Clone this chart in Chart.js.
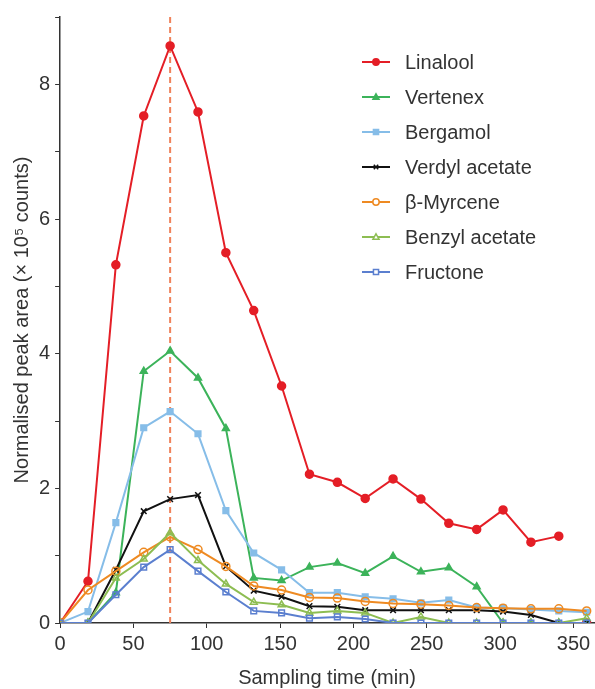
<!DOCTYPE html>
<html>
<head>
<meta charset="utf-8">
<script src="https://cdn.jsdelivr.net/npm/chart.js@4.4.1/dist/chart.umd.min.js"></script>
<style>
  html, body { margin: 0; padding: 0; background: #fff; }
  #chartPicos { display: block; }
</style>
</head>
<body>
<canvas id="chartPicos" width="595" height="689"></canvas>
<script>
// tiempos de muestreo (min)
const tiempos = [0, 19, 38, 57, 75, 94, 113, 132, 151, 170, 189, 208, 227, 246, 265, 284, 302, 321, 340, 359];
const ticksX = [0, 50, 100, 150, 200, 250, 300, 350];

const linalool = [0, 0.62, 5.32, 7.53, 8.57, 7.59, 5.50, 4.64, 3.52, 2.21, 2.09, 1.85, 2.14, 1.84, 1.48, 1.39, 1.68, 1.20, 1.29, 0];
const vertenex = [0, 0, 0.45, 3.74, 4.04, 3.64, 2.89, 0.67, 0.63, 0.83, 0.89, 0.74, 0.99, 0.76, 0.82, 0.54, 0, 0, 0, 0];
const bergamol = [0, 0.17, 1.49, 2.90, 3.14, 2.81, 1.67, 1.04, 0.79, 0.45, 0.45, 0.39, 0.36, 0.30, 0.34, 0.23, 0.22, 0.20, 0.18, 0.16];
const verdylAcetate = [0, 0, 0.79, 1.66, 1.84, 1.90, 0.84, 0.48, 0.39, 0.25, 0.24, 0.19, 0.19, 0.19, 0.19, 0.19, 0.17, 0.12, 0, 0];
const myrcene = [0, 0.49, 0.77, 1.05, 1.28, 1.09, 0.84, 0.55, 0.49, 0.38, 0.37, 0.32, 0.29, 0.28, 0.26, 0.23, 0.22, 0.21, 0.21, 0.18];
const benzylAcetate = [0, 0, 0.67, 0.95, 1.34, 0.93, 0.58, 0.31, 0.27, 0.15, 0.18, 0.15, 0, 0.09, 0, 0, 0, 0, 0, 0.07];
const fructone = [0, 0, 0.42, 0.83, 1.09, 0.77, 0.46, 0.18, 0.15, 0.07, 0.09, 0.06, 0, 0, 0, 0, 0, 0, 0, 0];

const nombres = ["Linalool", "Vertenex", "Bergamol", "Verdyl acetate", "\u03B2-Myrcene", "Benzyl acetate", "Fructone"];
const tiempoPico = 75;
const yMax = 9;
const xMax = 364;

const fuente = "'Liberation Sans', Arial, sans-serif";
const tamFuente = 20;
const grisTexto = "#333333";

const aPuntos = (valores) => valores.map((v, i) => ({ x: tiempos[i], y: v }));

const serie = (nombre, valores, color, estilo, relleno) => ({
  label: nombre,
  data: aPuntos(valores),
  borderColor: color,
  backgroundColor: relleno ? color : "rgba(255,255,255,0)",
  pointBorderColor: color,
  pointBackgroundColor: relleno ? color : "rgba(255,255,255,0)",
  pointStyle: estilo,
  pointRadius: 4,
  pointBorderWidth: 1.5,
  borderWidth: 2,
  tension: 0,
  fill: false,
});

const datasets = [
  serie(nombres[6], fructone, "#5b7fcf", "rect", false),
  serie(nombres[5], benzylAcetate, "#8dbd52", "triangle", false),
  serie(nombres[4], myrcene, "#ee8a22", "circle", false),
  serie(nombres[3], verdylAcetate, "#111111", "crossRot", false),
  serie(nombres[2], bergamol, "#86bde8", "rect", true),
  serie(nombres[1], vertenex, "#3cb35a", "triangle", true),
  serie(nombres[0], linalool, "#e41e26", "circle", true),
];

// Linalool: el ultimo punto va suelto, sin linea
datasets[6].segment = {
  borderColor: (ctx) => (ctx.p1DataIndex === tiempos.length - 1 ? "rgba(0,0,0,0)" : undefined),
};

// linea discontinua en el pico
datasets.push({
  label: "pico",
  data: [{ x: tiempoPico, y: 0 }, { x: tiempoPico, y: yMax }],
  borderColor: "#f0825a",
  borderWidth: 2,
  borderDash: [6, 4],
  pointRadius: 0,
  fill: false,
  order: 10,
});

const dibujarMarcador = (ctx, estilo, x, y, r, color, relleno) => {
  ctx.save();
  ctx.strokeStyle = color;
  ctx.fillStyle = relleno ? color : "#ffffff";
  ctx.lineWidth = 1.5;
  ctx.beginPath();
  if (estilo === "circle") {
    ctx.arc(x, y, r, 0, Math.PI * 2);
  } else if (estilo === "rect") {
    ctx.rect(x - r * 0.8, y - r * 0.8, r * 1.6, r * 1.6);
  } else if (estilo === "triangle") {
    ctx.moveTo(x, y - r);
    ctx.lineTo(x + r * 0.95, y + r * 0.7);
    ctx.lineTo(x - r * 0.95, y + r * 0.7);
    ctx.closePath();
  } else if (estilo === "crossRot") {
    ctx.moveTo(x - r * 0.7, y - r * 0.7);
    ctx.lineTo(x + r * 0.7, y + r * 0.7);
    ctx.moveTo(x + r * 0.7, y - r * 0.7);
    ctx.lineTo(x - r * 0.7, y + r * 0.7);
    ctx.stroke();
    ctx.restore();
    return;
  }
  ctx.fill();
  ctx.stroke();
  ctx.restore();
};

/* leyenda dentro del area del grafico */
const leyendaInterna = {
  id: "leyendaInterna",
  afterDraw(chart) {
    const ctx = chart.ctx;
    const orden = [6, 5, 4, 3, 2, 1, 0];
    orden.forEach((idx, fila) => {
      const ds = chart.data.datasets[idx];
      const y = 62 + fila * 35;
      ctx.save();
      ctx.strokeStyle = ds.borderColor;
      ctx.lineWidth = 2;
      ctx.beginPath();
      ctx.moveTo(362, y);
      ctx.lineTo(390, y);
      ctx.stroke();
      ctx.restore();
      const relleno = ds.pointBackgroundColor !== "rgba(255,255,255,0)";
      dibujarMarcador(ctx, ds.pointStyle, 376, y, 3.2, ds.borderColor, relleno);
      ctx.save();
      ctx.fillStyle = grisTexto;
      ctx.font = `${tamFuente}px ${fuente}`;
      ctx.textBaseline = "middle";
      ctx.textAlign = "left";
      ctx.fillText(ds.label, 405, y + 1);
      ctx.restore();
    });
  },
};

const canvas = document.getElementById("chartPicos");
const context = canvas.getContext("2d");

const chartPicos = new Chart(context, {
  type: "line",
  data: { datasets },
  options: {
    responsive: false,
    animation: false,
    layout: { autoPadding: false, padding: { left: 7, right: 1, top: 11, bottom: -1 } },
    plugins: {
      legend: { display: false },
      tooltip: { enabled: false },
    },
    scales: {
      x: {
        type: "linear",
        min: 0,
        max: xMax,
        afterBuildTicks: (scale) => {
          scale.ticks = ticksX.map((v) => ({ value: v }));
        },
        afterFit: (scale) => {
          scale.paddingRight = 0;
        },
        ticks: {
          color: grisTexto,
          font: { family: fuente, size: tamFuente },
          padding: 4,
          maxRotation: 0,
        },
        grid: { drawOnChartArea: false, drawTicks: true, tickLength: 5, color: grisTexto },
        border: { display: true, color: grisTexto, width: 1.5 },
        title: {
          display: true,
          text: "Sampling time (min)",
          color: grisTexto,
          font: { family: fuente, size: tamFuente },
          padding: { top: 6, bottom: 0 },
        },
      },
      y: {
        min: 0,
        max: yMax,
        ticks: {
          stepSize: 1,
          color: grisTexto,
          font: { family: fuente, size: tamFuente },
          padding: 5,
          callback: (v) => (v % 2 === 0 ? v : ""),
        },
        grid: { drawOnChartArea: false, drawTicks: true, tickLength: 5, color: grisTexto },
        border: { display: true, color: grisTexto, width: 1.5 },
        title: {
          display: true,
          text: "Normalised peak area (\u00D7 10\u2075 counts)",
          color: grisTexto,
          font: { family: fuente, size: tamFuente },
          padding: { top: 3, bottom: 0 },
        },
      },
    },
  },
  plugins: [leyendaInterna],
});
</script>
</body>
</html>
